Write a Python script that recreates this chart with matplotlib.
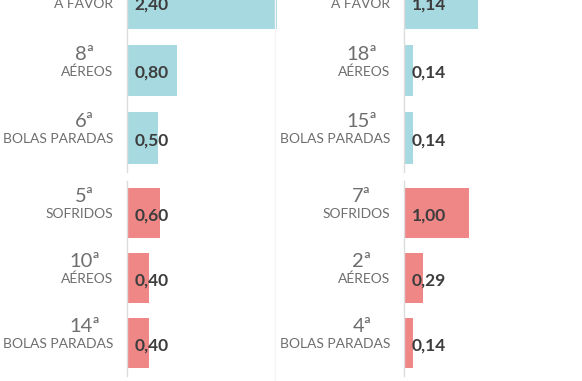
import matplotlib.pyplot as plt
from matplotlib.lines import Line2D

# dados
categorias = ['A FAVOR', 'AÉREOS', 'BOLAS PARADAS']
categorias_sofridos = ['SOFRIDOS', 'AÉREOS', 'BOLAS PARADAS']

esq_favor = [2.40, 0.80, 0.50]
esq_favor_rank = [None, '8ª', '6ª']
esq_sofridos = [0.60, 0.40, 0.40]
esq_sofridos_rank = ['5ª', '10ª', '14ª']

dir_favor = [1.14, 0.14, 0.14]
dir_favor_rank = [None, '18ª', '15ª']
dir_sofridos = [1.00, 0.29, 0.14]
dir_sofridos_rank = ['7ª', '2ª', '4ª']

azul = '#a7d9e1'
vermelho = '#f08787'
cinza_txt = '#6e6e6e'
valor_txt = '#3d3d3d'

plt.rcParams['font.family'] = ['Lato', 'DejaVu Sans']

W, H = 582, 381
fig = plt.figure(figsize=(W / 100, H / 100), dpi=100)


def painel(x0, y_top, y_bot, escala, valores, labels, ranks, cor):
    larg = 150
    ax = fig.add_axes([x0 / W, 1 - y_bot / H, larg / W, (y_bot - y_top) / H])
    pos = list(range(len(valores)))
    ax.barh(pos, valores, height=0.76, color=cor, clip_on=False)
    ax.set_ylim(len(valores) - 0.5, -0.5)
    ax.set_xlim(0, larg / escala)
    for s in ['top', 'right', 'bottom']:
        ax.spines[s].set_visible(False)
    ax.spines['left'].set_color('#dcdcdc')
    ax.spines['left'].set_linewidth(1)
    ax.set_xticks([])
    ax.set_yticks([])
    ax.patch.set_alpha(0)
    for p, v, lab, r in zip(pos, valores, labels, ranks):
        ax.annotate(f'{v:.2f}'.replace('.', ','), xy=(0, p), xytext=(5.8, -1.5),
                    textcoords='offset points', ha='left', va='center',
                    fontsize=12.5, fontweight='bold', color=valor_txt,
                    annotation_clip=False)
        ax.annotate(lab, xy=(0, p), xytext=(-9.8, -0.6),
                    textcoords='offset points', ha='right', va='center',
                    fontsize=10, color=cinza_txt, annotation_clip=False)
        if r:
            ax.annotate(r, xy=(0, p), xytext=(-30, 11.8),
                        textcoords='offset points', ha='center', va='center',
                        fontsize=14.5, color=cinza_txt, annotation_clip=False)
    return ax


painel(126.5, -31, 172, 62.5, esq_favor, categorias, esq_favor_rank, azul)
painel(126.5, 180.5, 375.5, 56, esq_sofridos, categorias_sofridos, esq_sofridos_rank, vermelho)
painel(403.5, -31, 172, 65, dir_favor, categorias, dir_favor_rank, azul)
painel(403.5, 180.5, 375.5, 65.7, dir_sofridos, categorias_sofridos, dir_sofridos_rank, vermelho)

# linha separadora clara
fig.add_artist(Line2D([275 / W, 275 / W], [0, 1], color='#f5f5f5', lw=1))

fig.savefig('out.png', dpi=100, facecolor='white')
